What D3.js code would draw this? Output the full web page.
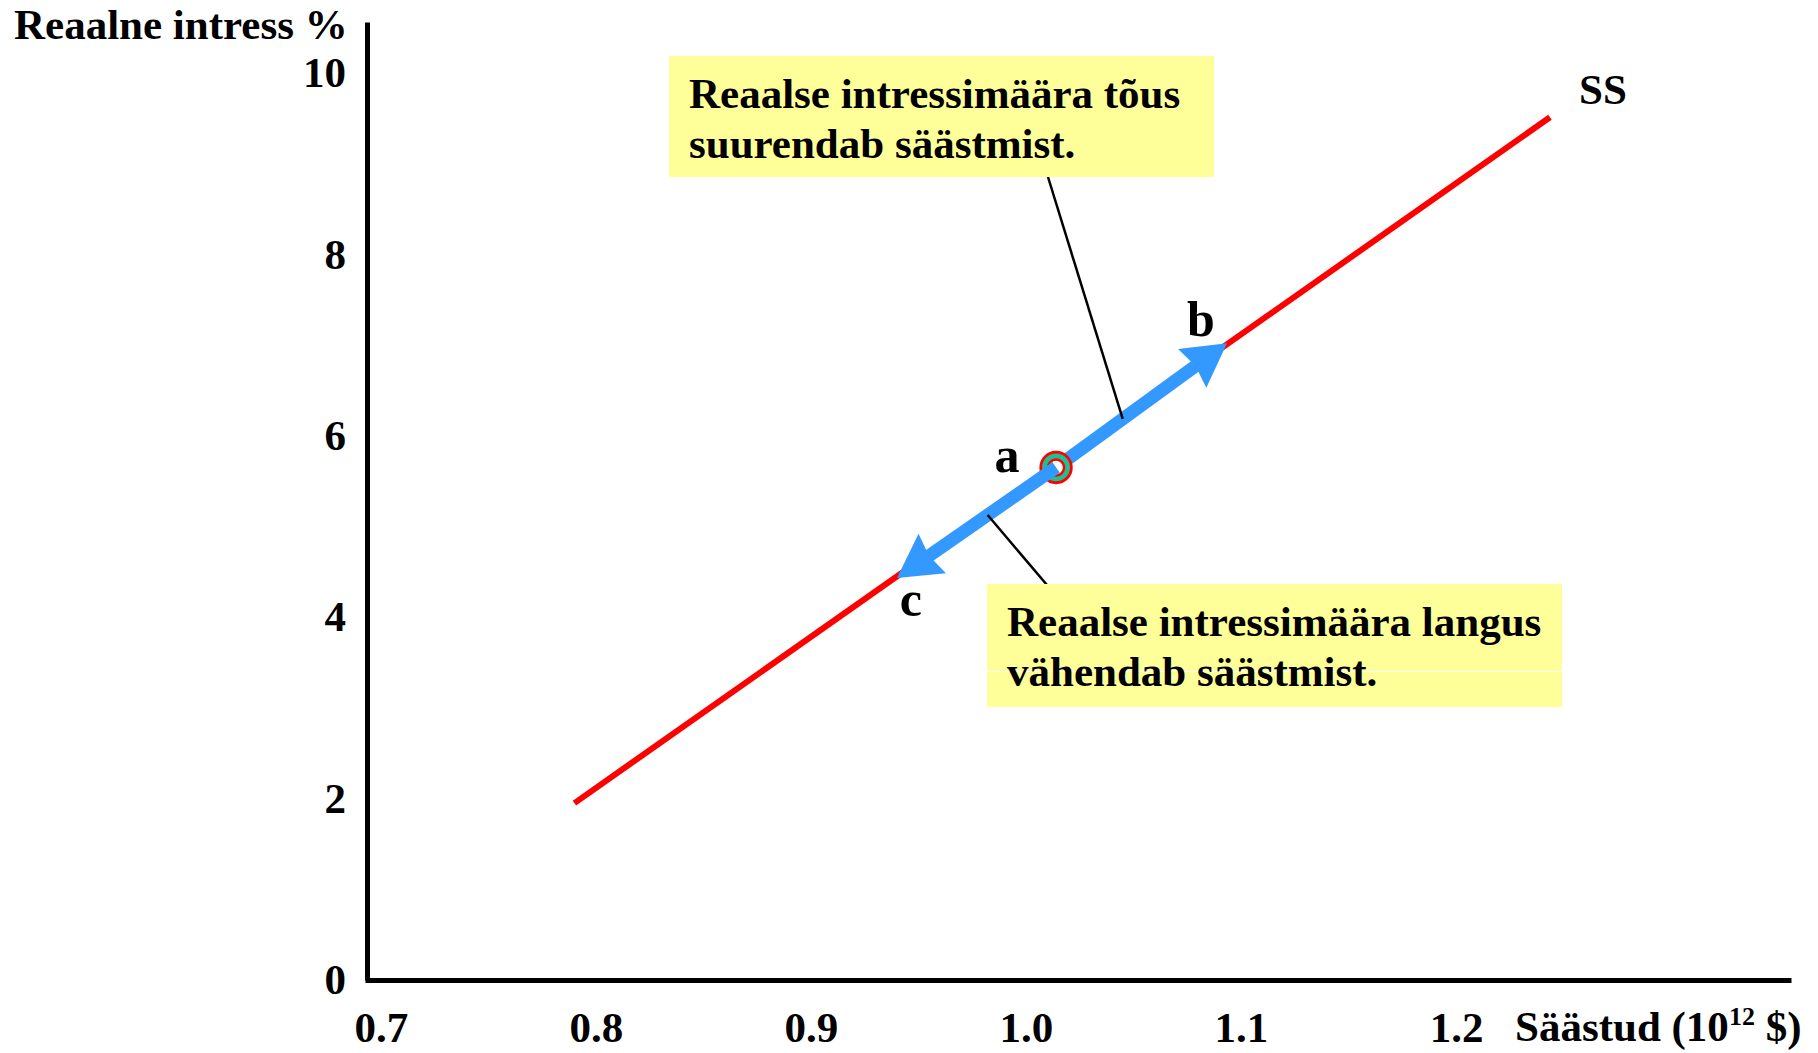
<!DOCTYPE html>
<html lang="et">

<head>
  <meta charset="UTF-8">
  <title>Säästud ja reaalne intress</title>
  <script src="https://d3js.org/d3.v7.min.js"></script>
  <style>
    body {
      margin: 0;
      background: #fff;
    }

    svg text {
      font-family: "Liberation Serif", "Times New Roman", serif;
      font-weight: bold;
      fill: #000;
    }
  </style>
</head>

<body>
  <script>
    // andmed
    var xTicks = [0.7, 0.8, 0.9, 1.0, 1.1, 1.2];
    var yTicks = [0, 2, 4, 6, 8, 10];
    var ssSavings = [0.79, 1.2437];
    var ssRate = [1.95, 9.51];
    var pointNames = ['a', 'b', 'c'];
    var pointSavings = [1.014, 1.0935, 0.94];
    var pointRate = [5.65, 7.02, 4.43];
    var noteUp = ['Reaalse intressimäära tõus', 'suurendab säästmist.'];
    var noteDown = ['Reaalse intressimäära langus', 'vähendab säästmist.'];

    var width = 1818;
    var height = 1053;
    var fontSize = 43;

    var svg = d3.select('body')
      .append('svg')
      .attr('width', width)
      .attr('height', height);

    // skaalad (telje otsad jäävad tikkidest veidi välja)
    var x = d3.scaleLinear()
      .domain([0.6926, 1.3558])
      .range([365, 1791]);
    var y = d3.scaleLinear()
      .domain([0, 10.56])
      .range([980, 22]);

    // teljed
    svg.append('g')
      .attr('transform', 'translate(0,' + y(0) + ')')
      .call(d3.axisBottom(x)
        .tickValues(xTicks)
        .tickFormat(d3.format('.1f'))
        .tickSize(0)
        .tickPadding(31));
    svg.append('g')
      .attr('transform', 'translate(367,0)')
      .call(d3.axisLeft(y)
        .tickValues(yTicks)
        .tickFormat(d3.format('d'))
        .tickSize(0)
        .tickPadding(21));

    svg.selectAll('.domain')
      .attr('stroke', '#000')
      .attr('stroke-width', 5);
    svg.selectAll('.tick text')
      .attr('font-size', fontSize)
      .style('font-family', '"Liberation Serif", "Times New Roman", serif')
      .style('font-weight', 'bold');

    // telgede nimed
    svg.append('text')
      .attr('x', 14)
      .attr('y', 39)
      .attr('font-size', fontSize)
      .text('Reaalne intress %');

    var xTitle = svg.append('text')
      .attr('x', 1515)
      .attr('y', 1041)
      .attr('font-size', fontSize);
    xTitle.append('tspan').text('Säästud (10');
    xTitle.append('tspan')
      .attr('font-size', 26)
      .attr('dy', -16)
      .text('12');
    xTitle.append('tspan')
      .attr('dy', 16)
      .text(' $)');

    // SS joon
    var ssLine = d3.line()
      .x(function (d, i) { return x(ssSavings[i]); })
      .y(function (d, i) { return y(ssRate[i]); });
    svg.append('path')
      .attr('d', ssLine(ssSavings))
      .attr('fill', 'none')
      .attr('stroke', '#ff0000')
      .attr('stroke-width', 6);

    svg.append('text')
      .attr('x', x(ssSavings[1]) + 53)
      .attr('y', y(ssRate[1]) - 13)
      .attr('text-anchor', 'middle')
      .attr('font-size', fontSize)
      .text('SS');

    var px = pointSavings.map(function (d) { return x(d); });
    var py = pointRate.map(function (d) { return y(d); });

    // nool punktist a punkti i suunas
    function arrow(i) {
      var dx = px[i] - px[0];
      var dy = py[i] - py[0];
      var len = Math.sqrt(dx * dx + dy * dy);
      var ux = dx / len, uy = dy / len;
      var headLen = 43, headW = 24;
      var bx = px[i] - ux * headLen, by = py[i] - uy * headLen;
      var g = svg.append('g');
      g.append('line')
        .attr('x1', px[0])
        .attr('y1', py[0])
        .attr('x2', bx + ux * 4)
        .attr('y2', by + uy * 4)
        .attr('stroke', '#3399ff')
        .attr('stroke-width', 13);
      g.append('path')
        .attr('d', 'M' + px[i] + ',' + py[i] +
          'L' + (bx - uy * headW) + ',' + (by + ux * headW) +
          'L' + (bx + ux * 4) + ',' + (by + uy * 4) +
          'L' + (bx + uy * headW) + ',' + (by - ux * headW) + 'Z')
        .attr('fill', '#3399ff');
    }

    arrow(1);

    // punkt a
    svg.append('circle')
      .attr('cx', px[0])
      .attr('cy', py[0])
      .attr('r', 15.3)
      .attr('fill', '#1fbf8f')
      .attr('stroke', '#ff0000')
      .attr('stroke-width', 2.8);
    svg.append('circle')
      .attr('cx', px[0])
      .attr('cy', py[0])
      .attr('r', 8)
      .attr('fill', '#ffffff')
      .attr('stroke', '#ff0000')
      .attr('stroke-width', 2.5);

    arrow(2);

    // punktide nimed
    var labelDx = [-49, -26, 14];
    var labelDy = [5, -7, 38];
    svg.selectAll('.plabel')
      .data(pointNames)
      .enter()
      .append('text')
      .attr('class', 'plabel')
      .attr('x', function (d, i) { return px[i] + labelDx[i]; })
      .attr('y', function (d, i) { return py[i] + labelDy[i]; })
      .attr('text-anchor', 'middle')
      .attr('font-size', 50)
      .text(function (d) { return d; });

    // selgitavad kastid
    function note(lines, bx, by, bw, bh, t, target, lx, ly) {
      var g = svg.append('g');
      var ax = px[0] + (px[target] - px[0]) * t;
      var ay = py[0] + (py[target] - py[0]) * t;
      g.append('line')
        .attr('x1', lx)
        .attr('y1', ly)
        .attr('x2', ax)
        .attr('y2', ay)
        .attr('stroke', '#000')
        .attr('stroke-width', 2.5);
      g.append('rect')
        .attr('x', bx)
        .attr('y', by)
        .attr('width', bw)
        .attr('height', bh)
        .attr('fill', '#ffff99');
      g.selectAll('text')
        .data(lines)
        .enter()
        .append('text')
        .attr('x', bx + 20)
        .attr('y', function (d, i) { return by + 52 + i * 50; })
        .attr('font-size', fontSize)
        .text(function (d) { return d; });
      return g;
    }

    note(noteUp, 669, 56, 545, 121, 0.39, 1, 1048, 177);
    var down = note(noteDown, 987, 584, 575, 123, 0.43, 2, 1047, 585);
    down.insert('line', 'text')
      .attr('x1', 987)
      .attr('x2', 1562)
      .attr('y1', 671.5)
      .attr('y2', 671.5)
      .attr('stroke', '#ffffff')
      .attr('stroke-width', 1);
  </script>
</body>

</html>
